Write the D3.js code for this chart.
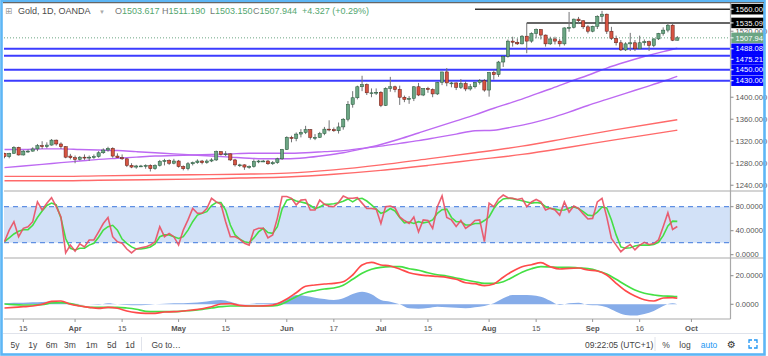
<!DOCTYPE html>
<html><head><meta charset="utf-8">
<script src="https://cdn.jsdelivr.net/npm/d3@7"></script>
<style>
body{margin:0;background:#fff;overflow:hidden}
svg{display:block;font-family:"Liberation Sans",Arial,sans-serif}
</style></head>
<body><svg id="c" width="768" height="356"></svg>
<script>
// ---------------- DATA ----------------
// daily candles, index 0 = 11 Mar 2019 ... 143 = 26 Sep 2019
const opens=[1298,1292,1298,1309,1295,1302,1302,1306,1312,1310,1313,1322,1315,1310,1293,1290,1287,1291,1290,1291,1292,1299,1304,1307,1293,1290,1288,1276,1273,1275,1275,1276,1270,1276,1283,1285,1280,1284,1274,1270,1279,1281,1284,1281,1284,1286,1301,1296,1297,1286,1277,1277,1273,1274,1283,1284,1284,1279,1281,1288,1305,1327,1325,1333,1336,1341,1327,1327,1334,1342,1341,1339,1346,1360,1387,1399,1419,1423,1408,1408,1409,1385,1416,1419,1414,1400,1396,1398,1419,1404,1416,1414,1406,1427,1446,1426,1426,1418,1425,1415,1419,1427,1430,1413,1445,1441,1464,1474,1502,1500,1497,1511,1502,1516,1523,1513,1497,1506,1502,1497,1526,1527,1542,1539,1528,1520,1529,1547,1551,1520,1507,1499,1486,1497,1499,1488,1499,1501,1494,1506,1516,1522,1531,1503.617];
const highs=[1299,1299,1311,1310,1304,1305,1309,1315,1320,1318,1324,1323,1318,1311,1297,1294,1293,1296,1294,1296,1302,1307,1310,1309,1298,1296,1289,1280,1277,1277,1278,1278,1278,1286,1288,1287,1288,1286,1276,1282,1283,1287,1286,1287,1289,1303,1302,1302,1298,1288,1279,1278,1276,1287,1286,1286,1286,1284,1290,1306,1329,1330,1336,1342,1348,1342,1333,1337,1346,1358,1345,1354,1362,1393,1411,1421,1439,1425,1416,1416,1411,1418,1437,1421,1421,1403,1402,1420,1426,1416,1419,1416,1428,1446,1453,1428,1427,1433,1429,1424,1428,1433,1433,1446,1449,1466,1475,1505,1510,1507,1513,1535,1518,1525,1524,1514,1510,1510,1506,1527,1555,1543,1546,1540,1531,1530,1549,1557,1552,1528,1512,1504,1500,1517,1504,1512,1505,1503,1507,1517,1527,1535,1533,1511.19];
const lows=[1289,1289,1297,1294,1294,1299,1301,1302,1306,1307,1312,1312,1306,1289,1287,1280,1285,1286,1284,1288,1290,1297,1301,1290,1290,1286,1273,1271,1270,1273,1270,1265,1268,1274,1276,1277,1278,1272,1267,1267,1276,1279,1278,1279,1282,1284,1294,1293,1284,1274,1273,1268,1270,1272,1280,1282,1277,1277,1279,1286,1304,1318,1320,1327,1333,1323,1322,1326,1331,1338,1337,1334,1341,1356,1381,1396,1411,1404,1400,1404,1382,1384,1410,1409,1386,1391,1388,1393,1402,1402,1408,1400,1404,1422,1420,1418,1413,1415,1411,1412,1416,1423,1410,1401,1432,1437,1455,1472,1492,1495,1496,1480,1499,1507,1505,1492,1495,1496,1492,1494,1519,1525,1533,1524,1516,1518,1524,1537,1515,1504,1494,1484,1484,1484,1484,1488,1494,1484,1491,1504,1512,1518,1502,1503.15];
const closes=[1292,1298,1309,1295,1302,1302,1306,1312,1310,1313,1322,1315,1310,1291,1290,1287,1291,1290,1291,1292,1299,1304,1307,1293,1290,1288,1276,1273,1275,1275,1276,1270,1276,1283,1285,1280,1284,1274,1270,1279,1281,1284,1281,1284,1286,1301,1296,1297,1286,1277,1277,1273,1274,1283,1284,1284,1279,1281,1288,1305,1327,1325,1333,1336,1341,1327,1327,1334,1342,1341,1339,1346,1360,1387,1399,1419,1423,1408,1408,1409,1385,1416,1419,1414,1400,1396,1398,1419,1404,1416,1414,1406,1427,1446,1426,1426,1418,1425,1415,1419,1427,1430,1413,1445,1441,1464,1474,1502,1500,1497,1511,1502,1516,1523,1513,1497,1506,1502,1497,1526,1527,1542,1539,1528,1520,1529,1547,1551,1520,1507,1499,1486,1497,1499,1488,1499,1501,1494,1506,1516,1522,1531,1503.617,1507.944];

// moving averages (sampled bars)
const maIdx=[0,4,8,12,16,20,24,28,32,36,40,44,48,52,56,60,64,68,72,76,80,84,88,92,96,100,104,108,112,116,120,124,128,132,136,140,143];
const maFast=[1305,1305,1306,1306,1305,1304,1303,1301,1299,1297,1295,1293,1291,1289,1288,1288,1290,1294,1299,1306,1314,1324,1335,1346,1357,1368,1380,1391,1403,1415,1428,1440,1453,1464,1474,1483,1489];
const maSlow=[1272,1275,1278,1281,1284,1287,1289,1291,1293,1294,1295,1296,1297,1298,1298,1298,1299,1301,1303,1307,1311,1316,1321,1327,1333,1339,1340,1346,1353,1362,1373,1385,1396,1407,1418,1429,1438];
const maLongIdx=[0,10,20,30,40,50,60,70,80,90,100,110,120,130,140,143];
const maLongA=[1256,1256,1257,1258,1259,1260,1262,1268,1277,1288,1299,1311,1326,1341,1355,1359];
const maLongB=[1248,1248,1249,1250,1251,1253,1255,1260,1267,1276,1286,1296,1309,1323,1336,1340];

// horizontal levels
const blueLevels=[1488.081,1475.215,1450.000,1430.000];
const blackLevels=[1560.000,1535.095];
const blackLevelStart=[100,111];
const lastPrice=1507.944;
const priceTicks=[1240,1280,1320,1360,1400,1520];

// stochastic
const stochK=[21.7,41,55,30,44,46.7,55,88,74.5,85.6,95,80,63,3,16,6,18,13,24.5,24.5,38,52,62,30,21.7,19,9.5,3,9.5,11.7,13,16,21.7,46.7,30,35.5,30,16,41,58,77,69,69,77,94,88,84,55,30,30,26,19,16,41,44,44,28,33,61,97,97,94,83,91,92,74.5,74.5,91,84,81,80,87,98,94,94,95,86,77,77,76,52,80,81,78,63,57,52,63,38,58,57,44,80,98,62,58,47,57,44,49.5,57,58,21.7,86,80,93,99.5,95,94,92,94,80,88,92,88,74.5,77.8,74.5,66,88,71,81,77,68,59.5,60.5,88,94,63,27,16,5,11.7,17,8,16,20.7,17,18.5,24.5,46.7,70,42,47];
const stochD=[21.7,28,34.5,39,41.7,41.7,49,62,73,82,86,83,61,27,10.7,8,10.7,10.7,16,19,29,41,46.7,49,41,26,19,13,9.5,9.5,10.7,13,17.8,30,33,33,30,27,30,41,55,66,69,71.7,82,87,87,74.5,49.5,33,26,21.7,20,28,38,44,37,35.5,46.7,76,91,93,89.5,88,86,82,77,79.5,84,84,85,86.7,89,93,88,93,94,89.5,83,76,69,71.7,77,73,62,53,54.5,52,55,53,54.5,58,69,75,76,62,55,55,49.5,49.5,52,52,57,63,77,87,93,94,93.5,91.7,90,88,86,87,86,80,77,76,74,74.5,78,79.5,77,71.7,66,65,71,79.5,78,58,33,13,10.7,11.7,14.5,16,16,16,17,20.7,31.7,48,56,55.5];
const stochTicks=[0,40,80];
const stochBand=[20,80];

// MACD (sampled every 2 bars + last)
const macdIdx=[0,2,4,6,8,10,12,14,16,18,20,22,24,26,28,30,32,34,36,38,40,42,44,46,48,50,52,54,56,58,60,62,64,66,68,70,72,74,76,78,80,82,84,86,88,90,92,94,96,98,100,102,104,106,108,110,112,114,116,118,120,122,124,126,128,130,132,134,136,138,140,142,143];
const macdLine=[-2.6,-2.1,-1.7,-1.2,0,2.1,2.3,0,-1.2,-2.1,-2.8,-2.1,-2.8,-4.7,-5.9,-6.3,-6.3,-5.4,-5.2,-4.7,-4.0,-3.1,-1.7,0.2,0.4,-0.7,-1.2,-1.2,-1.0,0.4,3.7,8.1,12.6,13.5,14.2,14.7,15.8,20.5,27.5,29.3,27.5,26.8,24.7,22.1,20.7,20.0,19.5,18.9,17.5,15.1,14.4,13.0,14.2,18.9,23.1,26.3,27.7,29.1,26.3,24.7,25.2,25.4,24.0,23.3,20.5,14.7,9.5,5.8,3.2,2.3,4.4,4.6,4.2];
const macdSignal=[0.2,-0.3,-0.5,-0.5,-0.3,0.9,1.1,0.4,-1.0,-2.1,-2.1,-2.1,-2.1,-2.6,-3.5,-4.9,-5.2,-5.2,-5.2,-4.7,-4.2,-3.5,-2.6,-1.7,-1.2,-1.2,-1.2,-1.2,-1.2,-0.7,1.8,5.3,8.1,9.5,10.7,11.4,13.3,17.5,21.7,24.5,25.9,26.3,26.3,24.9,23.8,22.1,20.7,19.8,18.4,17.0,15.8,14.7,14.7,15.8,18.9,22.4,24.9,26.3,26.1,25.9,25.9,25.4,24.9,23.5,21.2,17.5,13.5,10.0,7.7,6.5,5.8,5.6,5.3];
const macdHist=[0.7,1.1,1.1,1.4,1.6,1.8,1.4,0.7,0.2,0,-0.3,0.7,0,-0.5,-0.7,-0.5,0,0.4,0.7,0.7,1.1,1.6,2.5,3.0,1.8,0.2,0.2,0.7,0.7,1.1,3.5,6.5,5.8,4.6,3.7,3.0,4.2,7.2,8.8,7.0,3.0,1.8,0,-2.8,-3.1,-2.6,-1.7,-2.1,-2.4,-2.8,-2.1,-1.2,0.7,4.2,6.5,6.5,6.3,5.3,2.5,-0.5,0.7,1.1,-0.5,-0.7,-2.1,-5.2,-7.5,-7.9,-6.8,-4.7,-1.2,0.7,0];
const macdTicks=[0,20];

// time axis
const timeTickIdx=[4,15,25,37,47,60,70,80,90,103,113,125,135,146];
const timeTickLabels=["15","Apr","15","May","15","Jun","17","Jul","15","Aug","15","Sep","16","Oct"];

// ---------------- LAYOUT ----------------
const svg=d3.select("#c");
const PL=4, PR=730.5;
const P={t:3,b:191}, S={t:191,b:258}, M={t:258,b:319};
const x=d3.scaleLinear().domain([0,143]).range([4.5,677.3]);
const yP=d3.scaleLinear().domain([1229.5,1571.3]).range([P.b,P.t]);
const yS=d3.scaleLinear().domain([-5.5,106.2]).range([S.b,S.t]);
const yM=d3.scaleLinear().domain([-10.3,32.4]).range([M.b,M.t]);
const fmt3=d3.format(".3f"), fmt4=d3.format(".4f");

svg.append("rect").attr("width",768).attr("height",356).attr("fill","#fff");

const defs=svg.append("defs");
[["cp",P],["cs",S],["cm",M]].forEach(([id,p])=>{
  defs.append("clipPath").attr("id",id).append("rect").attr("x",PL).attr("y",p.t).attr("width",PR-PL).attr("height",p.b-p.t);
});

// ---------- price pane ----------
const gp=svg.append("g").attr("clip-path","url(#cp)");
const line=(xs,ys,sy)=>d3.line().x((d,k)=>x(xs[k])).y(d=>sy(d)).curve(d3.curveMonotoneX);

gp.append("path").attr("d",line(maLongIdx,maLongB,yP)(maLongB)).attr("fill","none").attr("stroke","#ff6a6a").attr("stroke-width",1.4);
gp.append("path").attr("d",line(maLongIdx,maLongA,yP)(maLongA)).attr("fill","none").attr("stroke","#ff6a6a").attr("stroke-width",1.4);
gp.append("path").attr("d",line(maIdx,maSlow,yP)(maSlow)).attr("fill","none").attr("stroke","#bd6af2").attr("stroke-width",1.4);
gp.append("path").attr("d",line(maIdx,maFast,yP)(maFast)).attr("fill","none").attr("stroke","#bd6af2").attr("stroke-width",1.4);

// level lines
gp.selectAll("line.blue").data(blueLevels).join("line")
  .attr("x1",PL).attr("x2",PR).attr("y1",d=>yP(d)).attr("y2",d=>yP(d))
  .attr("stroke","#3c3cff").attr("stroke-width",2);
gp.selectAll("line.blk").data(blackLevels).join("line")
  .attr("x1",(d,k)=>x(blackLevelStart[k])).attr("x2",PR).attr("y1",d=>yP(d)).attr("y2",d=>yP(d))
  .attr("stroke","#333").attr("stroke-width",1.5);
gp.append("line").attr("x1",PL).attr("x2",PR).attr("y1",yP(lastPrice)).attr("y2",yP(lastPrice))
  .attr("stroke","#6ba583").attr("stroke-width",1).attr("stroke-dasharray","1,2");

// candles
const candles=d3.range(closes.length).map(i=>({i,o:opens[i],h:highs[i],l:lows[i],c:closes[i]}));
gp.selectAll("line.wick").data(candles).join("line")
  .attr("x1",d=>x(d.i)).attr("x2",d=>x(d.i)).attr("y1",d=>yP(d.h)).attr("y2",d=>yP(d.l))
  .attr("stroke","#737375").attr("stroke-width",1);
gp.selectAll("rect.body").data(candles).join("rect")
  .attr("x",d=>x(d.i)-1.6).attr("width",3.2)
  .attr("y",d=>yP(Math.max(d.o,d.c)))
  .attr("height",d=>Math.max(0.9,Math.abs(yP(d.o)-yP(d.c))))
  .attr("fill",d=>d.c>=d.o?"#6ba583":"#d75442")
  .attr("stroke",d=>d.c>=d.o?"#225437":"#5b1a13").attr("stroke-width",0.5);

// ---------- stochastic pane ----------
const gs=svg.append("g").attr("clip-path","url(#cs)");
gs.append("rect").attr("x",PL).attr("width",PR-PL).attr("y",yS(stochBand[1])).attr("height",yS(stochBand[0])-yS(stochBand[1])).attr("fill","#d2e1f7");
gs.selectAll("line.band").data(stochBand).join("line")
  .attr("x1",PL).attr("x2",PR).attr("y1",d=>yS(d)).attr("y2",d=>yS(d))
  .attr("stroke","#5f8fe3").attr("stroke-width",1.3).attr("stroke-dasharray","5,4");
const lin=(sy)=>d3.line().x((d,k)=>x(k)).y(d=>sy(d));
gs.append("path").attr("d",lin(yS)(stochD)).attr("fill","none").attr("stroke","#45df45").attr("stroke-width",1.6);
gs.append("path").attr("d",lin(yS)(stochK)).attr("fill","none").attr("stroke","#ea4f62").attr("stroke-width",1.6).attr("stroke-opacity",0.9);

// ---------- MACD pane ----------
const gm=svg.append("g").attr("clip-path","url(#cm)");
gm.append("path").attr("d",d3.area().x((d,k)=>x(macdIdx[k])).y0(yM(0)).y1(d=>yM(d)).curve(d3.curveMonotoneX)(macdHist))
  .attr("fill","#86ace9");
gm.append("path").attr("d",line(macdIdx,macdSignal,yM)(macdSignal)).attr("fill","none").attr("stroke","#44e044").attr("stroke-width",1.7);
gm.append("path").attr("d",line(macdIdx,macdLine,yM)(macdLine)).attr("fill","none").attr("stroke","#ff4a4a").attr("stroke-width",1.7);

// ---------- borders / separators ----------
const gb=svg.append("g");
gb.append("line").attr("x1",PL).attr("x2",764).attr("y1",S.t).attr("y2",S.t).attr("stroke","#a9a9a9").attr("stroke-width",1.2);
gb.append("line").attr("x1",PL).attr("x2",764).attr("y1",M.t).attr("y2",M.t).attr("stroke","#a9a9a9").attr("stroke-width",1.2);
gb.append("line").attr("x1",PL).attr("x2",PR).attr("y1",M.b).attr("y2",M.b).attr("stroke","#a9a9a9").attr("stroke-width",1.2);
gb.append("line").attr("x1",PR).attr("x2",PR).attr("y1",P.t).attr("y2",M.b).attr("stroke","#a9a9a9").attr("stroke-width",1.2);

// ---------- price axis ----------
const ax=svg.append("g").attr("font-size",7.6).attr("fill","#555");
const tickLab=(g,vals,sy,f)=>{
  const t=g.selectAll("g.t").data(vals).join("g").attr("transform",d=>`translate(${PR},${sy(d)})`);
  t.append("line").attr("x1",0).attr("x2",3).attr("stroke","#888");
  t.append("text").attr("x",5).attr("dy","0.35em").text(d=>f(d));
};
tickLab(ax.append("g"),priceTicks,yP,fmt3);
tickLab(ax.append("g"),stochTicks,yS,fmt4);
tickLab(ax.append("g"),macdTicks,yM,fmt4);

// price label boxes with simple collision avoidance
const boxes=[
  ...blackLevels.map(v=>({v,bg:"#000"})),
  {v:lastPrice,bg:"#6ba583"},
  ...blueLevels.map(v=>({v,bg:"#0000ff"}))
].sort((a,b)=>b.v-a.v);
const BH=10.5;
let prev=-1e9;
boxes.forEach(b=>{b.y=Math.max(yP(b.v),prev+BH);prev=b.y;});
const gbx=svg.append("g").attr("font-size",7.6);
const bx=gbx.selectAll("g").data(boxes).join("g").attr("transform",d=>`translate(${PR},${d.y})`);
bx.append("rect").attr("x",0.8).attr("y",-BH/2).attr("width",32.5).attr("height",BH).attr("fill",d=>d.bg);
bx.append("line").attr("x1",0).attr("x2",3).attr("stroke","#fff");
bx.append("text").attr("x",5).attr("dy","0.35em").attr("fill","#fff").text(d=>fmt3(d.v));

// ---------- time axis ----------
const tx=svg.append("g").attr("font-size",7.6).attr("fill","#555").attr("text-anchor","middle");
const tt=tx.selectAll("g").data(timeTickIdx).join("g").attr("transform",d=>`translate(${x(d)},${M.b})`);
tt.append("line").attr("y1",0).attr("y2",3).attr("stroke","#999");
tt.append("text").attr("y",11.5).attr("font-weight",(d,k)=>isNaN(+timeTickLabels[k])?"bold":"normal").text((d,k)=>timeTickLabels[k]);

// ---------- title ----------
const title=svg.append("g").attr("font-size",9);
title.append("text").attr("x",5).attr("y",14).attr("fill","#999").attr("font-family","DejaVu Sans").attr("font-size",8.5).text("⊞");
title.append("text").attr("x",18).attr("y",14).attr("fill","#4a4a4a").text("Gold, 1D, OANDA");
title.append("text").attr("x",99).attr("y",13.5).attr("fill","#aaa").attr("font-size",6).text("▼");
const ohlc=[["O","1503.617",115],["H","1511.190",162],["L","1503.150",210],["C","1507.944",253]];
let lastEnd=0;
ohlc.forEach(([k,v,px])=>{
  const t=title.append("text").attr("x",px).attr("y",14);
  t.append("tspan").attr("fill","#777").text(k);
  t.append("tspan").attr("fill","#53a66f").text(v);
  lastEnd=px+t.node().getComputedTextLength();
});
title.append("text").attr("x",lastEnd+5).attr("y",14).attr("fill","#53a66f").text("+4.327 (+0.29%)");

// ---------- bottom toolbar ----------
svg.append("line").attr("x1",3).attr("x2",764).attr("y1",333.5).attr("y2",333.5).attr("stroke","#e0e3eb");
const tb=svg.append("g").attr("font-size",8.5).attr("fill","#444").attr("text-anchor","middle");
const ranges=["5y","1y","6m","3m","1m","5d","1d"], rangeX=[15,32.7,51.7,70,91.7,111.7,130];
ranges.forEach((r,k)=>tb.append("text").attr("x",rangeX[k]).attr("y",347.5).text(r));
svg.append("line").attr("x1",141.5).attr("x2",141.5).attr("y1",337).attr("y2",351).attr("stroke","#e0e3eb");
tb.append("text").attr("x",151.5).attr("y",347.5).attr("text-anchor","start").text("Go to…");
tb.append("text").attr("x",585).attr("y",347.5).attr("text-anchor","start").text("09:22:05 (UTC+1)");
svg.append("line").attr("x1",655).attr("x2",655).attr("y1",337).attr("y2",351).attr("stroke","#e0e3eb");
tb.append("text").attr("x",666).attr("y",347.5).text("%");
tb.append("text").attr("x",685).attr("y",347.5).text("log");
tb.append("text").attr("x",709).attr("y",347.5).attr("fill","#2196f3").text("auto");
tb.append("text").attr("x",731.5).attr("y",348).attr("font-family","DejaVu Sans").attr("font-size",10).attr("fill","#333").text("⚙");
const fs=svg.append("g").attr("transform","translate(753,344)").attr("stroke","#2196f3").attr("stroke-width",1.3).attr("fill","none");
[[-4,-1,-4,-4,-1,-4],[1,-4,4,-4,4,-1],[4,1,4,4,1,4],[-1,4,-4,4,-4,1]].forEach(p=>
  fs.append("polyline").attr("points",`${p[0]},${p[1]} ${p[2]},${p[3]} ${p[4]},${p[5]}`));

// ---------- frame ----------
svg.append("rect").attr("x",1.5).attr("y",0.8).attr("width",763).attr("height",353.7).attr("fill","none").attr("stroke","#5db6f5").attr("stroke-width",2.6);
svg.append("line").attr("x1",3).attr("x2",764).attr("y1",2.6).attr("y2",2.6).attr("stroke","#666").attr("stroke-width",1.2);
</script></body></html>
